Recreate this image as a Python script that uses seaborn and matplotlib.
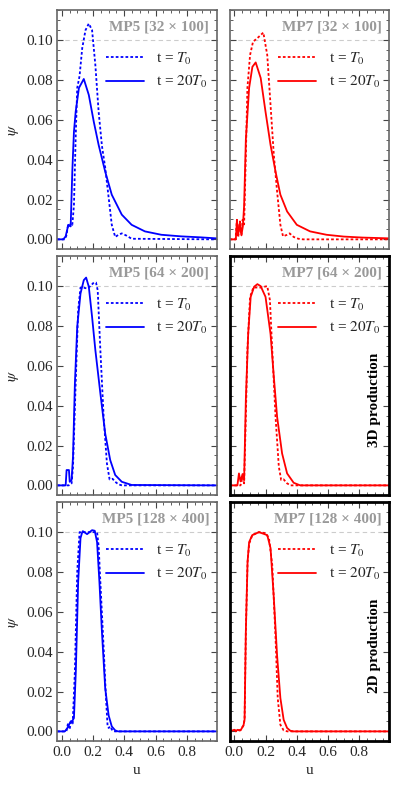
import numpy as np
import matplotlib
matplotlib.use('Agg')
import matplotlib.pyplot as plt
import seaborn as sns
from matplotlib.ticker import MultipleLocator, FormatStrFormatter

# ---- data (u, psi) ----
# MP5 [32 x 100]
mp5_32_u0 = [-0.03, 0.02, 0.03, 0.04, 0.05, 0.058, 0.0675, 0.078, 0.089, 0.099, 0.114, 0.131, 0.152, 0.173,
             0.194, 0.215, 0.236, 0.257, 0.278, 0.30, 0.32, 0.342, 0.363, 0.384, 0.416, 0.447, 0.99]
mp5_32_p0 = [0.0, 0.0, 0.002, 0.007, 0.0065, 0.008, 0.0073, 0.017, 0.051, 0.076, 0.082, 0.096, 0.105, 0.1083,
             0.105, 0.0875, 0.064, 0.047, 0.036, 0.021, 0.0073, 0.0012, 0.0023, 0.003, 0.0018, 0.0003, 0.0]
mp5_32_u1 = [-0.03, 0.01, 0.025, 0.042, 0.05, 0.057, 0.0675, 0.078, 0.089, 0.11, 0.141, 0.173, 0.205, 0.236,
             0.278, 0.32, 0.384, 0.447, 0.532, 0.637, 0.764, 0.89, 0.99]
mp5_32_p1 = [0.0, 0.0, 0.0015, 0.0073, 0.0068, 0.0065, 0.034, 0.054, 0.064, 0.076, 0.0805, 0.0725, 0.059, 0.0474,
             0.034, 0.0224, 0.0124, 0.0073, 0.004, 0.0023, 0.0015, 0.001, 0.0005]

# MP7 [32 x 100]
mp7_32_u0 = [-0.03, 0.008, 0.017, 0.025, 0.036, 0.046, 0.053, 0.063, 0.074, 0.084, 0.101, 0.12, 0.148, 0.186,
             0.211, 0.232, 0.253, 0.274, 0.295, 0.312, 0.338, 0.354, 0.38, 0.41, 0.44, 0.99]
mp7_32_p0 = [0.0, 0.0, 0.0098, 0.001, 0.009, 0.002, 0.0098, 0.0075, 0.042, 0.076, 0.0925, 0.0992, 0.101, 0.1038,
             0.0925, 0.0674, 0.0424, 0.024, 0.0073, 0.0015, 0.0023, 0.003, 0.0012, 0.0003, 0.0, 0.0]
mp7_32_u1 = [-0.03, 0.01, 0.017, 0.025, 0.036, 0.046, 0.055, 0.063, 0.074, 0.095, 0.116, 0.137, 0.169, 0.20,
             0.232, 0.264, 0.295, 0.338, 0.40, 0.485, 0.59, 0.70, 0.82, 0.99]
mp7_32_p1 = [0.0, 0.0, 0.0098, 0.0023, 0.008, 0.0023, 0.0065, 0.017, 0.05, 0.076, 0.0866, 0.0888, 0.081, 0.064,
             0.0474, 0.034, 0.0224, 0.014, 0.0073, 0.004, 0.0023, 0.0014, 0.0009, 0.0005]

# MP5 [64 x 200]
mp5_64_u0 = [-0.03, 0.045, 0.063, 0.072, 0.089, 0.105, 0.12, 0.141, 0.162, 0.183, 0.205, 0.219, 0.23,
             0.247, 0.268, 0.289, 0.306, 0.325, 0.342, 0.363, 0.385, 0.99]
mp5_64_p0 = [0.0, 0.0, 0.001, 0.0094, 0.051, 0.088, 0.0993, 0.0992, 0.0988, 0.1, 0.1018, 0.1018, 0.098,
             0.0679, 0.0344, 0.011, 0.003, 0.0033, 0.0018, 0.0005, 0.0, 0.0]
mp5_64_u1 = [-0.03, 0.025, 0.031, 0.036, 0.046, 0.051, 0.063, 0.072, 0.084, 0.099, 0.12, 0.141, 0.156,
             0.173, 0.194, 0.215, 0.247, 0.278, 0.31, 0.342, 0.384, 0.447, 0.99]
mp5_64_p1 = [0.0, 0.0, 0.0077, 0.0077, 0.0077, 0.0018, 0.0027, 0.0144, 0.051, 0.0796, 0.0963, 0.103, 0.1043,
             0.0997, 0.0846, 0.0679, 0.0462, 0.026, 0.0127, 0.0052, 0.0018, 0.0002, 0.0]

# MP7 [64 x 200]
mp7_64_u0 = [-0.03, 0.04, 0.053, 0.063, 0.074, 0.084, 0.101, 0.122, 0.169, 0.211, 0.228, 0.243, 0.264,
             0.285, 0.30, 0.316, 0.338, 0.36, 0.99]
mp7_64_p0 = [0.0, 0.0, 0.0043, 0.001, 0.0344, 0.068, 0.0946, 0.0993, 0.0993, 0.1, 0.093, 0.0679, 0.0344,
             0.0094, 0.0027, 0.003, 0.001, 0.0, 0.0]
mp7_64_u1 = [-0.03, 0.02, 0.03, 0.04, 0.053, 0.063, 0.074, 0.089, 0.105, 0.127, 0.148, 0.169, 0.20,
             0.232, 0.253, 0.274, 0.306, 0.338, 0.38, 0.422, 0.99]
mp7_64_p1 = [0.0, 0.0, 0.006, 0.002, 0.0057, 0.0027, 0.043, 0.076, 0.0946, 0.0997, 0.101, 0.1, 0.0946,
             0.076, 0.0545, 0.0344, 0.016, 0.006, 0.0013, 0.0, 0.0]

# MP5 [128 x 400]
mp5_128_u0 = [-0.03, 0.03, 0.04, 0.05, 0.06, 0.07, 0.084, 0.099, 0.114, 0.15, 0.19, 0.226, 0.236, 0.247,
              0.268, 0.283, 0.293, 0.30, 0.31, 0.325, 0.34, 0.99]
mp5_128_p0 = [0.0, 0.0, 0.004, 0.001, 0.005, 0.004, 0.03, 0.08, 0.1, 0.1, 0.1, 0.1, 0.093, 0.075,
              0.042, 0.0167, 0.003, 0.0017, 0.0025, 0.0003, 0.0, 0.0]
mp5_128_u1 = [-0.03, 0.02, 0.036, 0.046, 0.057, 0.068, 0.078, 0.09, 0.105, 0.12, 0.131, 0.135, 0.162,
              0.194, 0.211, 0.226, 0.241, 0.257, 0.278, 0.30, 0.32, 0.342, 0.36, 0.99]
mp5_128_p1 = [0.0, 0.0, 0.0017, 0.0033, 0.005, 0.0053, 0.0067, 0.03, 0.075, 0.097, 0.1, 0.1005, 0.099,
              0.101, 0.1007, 0.095, 0.075, 0.05, 0.0217, 0.008, 0.0025, 0.0005, 0.0, 0.0]

# MP7 [128 x 400]
mp7_128_u0 = [-0.03, 0.0, 0.02, 0.04, 0.059, 0.066, 0.074, 0.085, 0.095, 0.115, 0.158, 0.20, 0.222, 0.243,
              0.264, 0.278, 0.295, 0.316, 0.34, 0.99]
mp7_128_p0 = [0.0, 0.0008, 0.0, 0.0008, 0.003, 0.006, 0.05, 0.085, 0.094, 0.0985, 0.1, 0.0995, 0.097, 0.0835,
              0.047, 0.0167, 0.0033, 0.0005, 0.0, 0.0]
mp7_128_u1 = [-0.03, 0.0, 0.01, 0.02, 0.04, 0.059, 0.066, 0.074, 0.085, 0.095, 0.115, 0.158, 0.211, 0.232,
              0.253, 0.274, 0.295, 0.316, 0.338, 0.359, 0.38, 0.99]
mp7_128_p1 = [0.0, 0.0008, 0.0, 0.0008, 0.0005, 0.003, 0.006, 0.05, 0.085, 0.095, 0.0985, 0.1, 0.0985, 0.092,
              0.067, 0.038, 0.0167, 0.0058, 0.0017, 0.0003, 0.0, 0.0]

titles = [['MP5 [32 × 100]', 'MP7 [32 × 100]'],
          ['MP5 [64 × 200]', 'MP7 [64 × 200]'],
          ['MP5 [128 × 400]', 'MP7 [128 × 400]']]
curves = [[(mp5_32_u0, mp5_32_p0, mp5_32_u1, mp5_32_p1), (mp7_32_u0, mp7_32_p0, mp7_32_u1, mp7_32_p1)],
          [(mp5_64_u0, mp5_64_p0, mp5_64_u1, mp5_64_p1), (mp7_64_u0, mp7_64_p0, mp7_64_u1, mp7_64_p1)],
          [(mp5_128_u0, mp5_128_p0, mp5_128_u1, mp5_128_p1), (mp7_128_u0, mp7_128_p0, mp7_128_u1, mp7_128_p1)]]
side_notes = [None, '3D production', '2D production']
colors = ['#0000ff', '#ff0000']

sns.set_theme(style='ticks')
plt.rcParams['font.family'] = ['Liberation Serif', 'DejaVu Serif']
plt.rcParams['mathtext.fontset'] = 'stix'

fig, axes = plt.subplots(3, 2, figsize=(3.99, 7.87), dpi=100)
plt.subplots_adjust(left=0.143, right=0.975, top=0.987, bottom=0.058, wspace=0.082, hspace=0.029)

for r in range(3):
    for c in range(2):
        ax = axes[r, c]
        u0, p0, u1, p1 = curves[r][c]
        ax.axhline(0.1, color='#cccccc', lw=0.8, ls=(0, (4, 3)), zorder=0)
        sns.lineplot(x=u0, y=p0, ax=ax, color=colors[c], lw=1.3, linestyle=(0, (1.5, 1.2)),
                     label=r't = $T_0$', sort=False)
        sns.lineplot(x=u1, y=p1, ax=ax, color=colors[c], lw=1.3, label=r't = $20T_0$', sort=False)
        ax.set_xlim(-0.03, 0.99)
        ax.set_ylim(-0.005, 0.115)
        ax.xaxis.set_major_locator(MultipleLocator(0.2))
        ax.xaxis.set_minor_locator(MultipleLocator(0.05))
        ax.yaxis.set_major_locator(MultipleLocator(0.02))
        ax.yaxis.set_minor_locator(MultipleLocator(0.005))
        ax.tick_params(which='both', direction='in', top=True, right=True, labelsize=11,
                       color='#444444', pad=3)
        ax.tick_params(which='major', length=4, width=0.8)
        ax.tick_params(which='minor', length=2, width=0.6)
        ax.xaxis.set_major_formatter(FormatStrFormatter('%.1f'))
        ax.yaxis.set_major_formatter(FormatStrFormatter('%.2f'))
        if c == 1:
            ax.set_yticklabels([])
        if r < 2:
            ax.set_xticklabels([])
        ax.set_xlabel('u' if r == 2 else '', fontsize=11)
        ax.set_ylabel(r'$\psi$' if c == 0 else '', fontsize=11)
        ax.text(0.955, 0.93, titles[r][c], transform=ax.transAxes, ha='right', va='center',
                fontsize=11, fontweight='bold', color='#999999')
        ax.legend(loc='upper right', bbox_to_anchor=(1.0, 0.87), frameon=False, fontsize=11,
                  handlelength=2.5, borderaxespad=0.2, labelspacing=0.5)
        heavy = c == 1 and r > 0
        for s in ax.spines.values():
            s.set_color('black' if heavy else '#666666')
            s.set_linewidth(2.0 if heavy else 1.2)
        if c == 1 and side_notes[r]:
            ax.text(0.91, 0.40, side_notes[r], transform=ax.transAxes, rotation=90,
                    ha='center', va='center', fontsize=11, fontweight='bold', color='black')

fig.savefig('out.png', dpi=100)
